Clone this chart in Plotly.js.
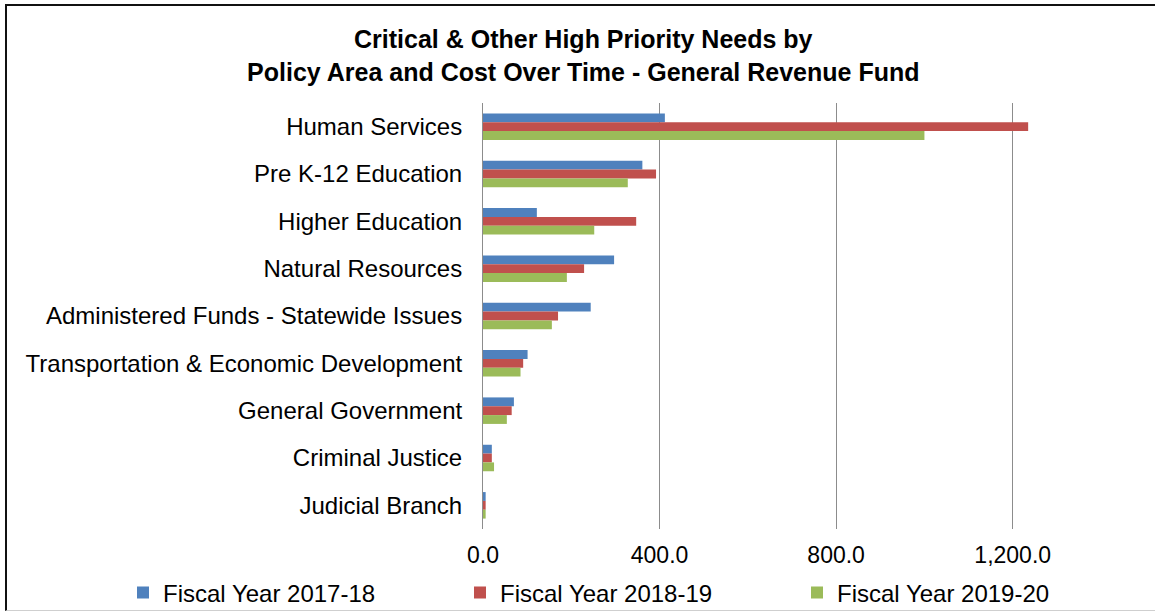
<!DOCTYPE html>
<html>
<head>
<meta charset="utf-8">
<script src="https://cdn.plot.ly/plotly-3.0.1.min.js"></script>
<style>
  html, body { margin: 0; padding: 0; background: #fff; overflow: hidden; }
  #wrap { position: relative; width: 1155px; height: 612px; overflow: hidden; }
  #chart { width: 1155px; height: 612px; }
  #frame { position: absolute; left: 5px; top: 4px; width: 1300px; height: 604px;
           border-left: 2px solid #111; border-top: 2px solid #111; border-bottom: 1px solid #cfcfcf;
           pointer-events: none; }
</style>
</head>
<body>
<div id="wrap">
  <div id="chart"></div>
  <div id="frame"></div>
</div>
<script>
const categories = [
  "Human Services",
  "Pre K-12 Education",
  "Higher Education",
  "Natural Resources",
  "Administered Funds - Statewide Issues",
  "Transportation & Economic Development",
  "General Government",
  "Criminal Justice",
  "Judicial Branch"
];
const seriesNames = ["Fiscal Year 2017-18", "Fiscal Year 2018-19", "Fiscal Year 2019-20"];
const fy2017_18 = [412, 361, 122, 297, 244, 101, 70, 20, 6];
const fy2018_19 = [1235, 392, 347, 229, 170, 91, 65, 20, 6];
const fy2019_20 = [1000, 328, 252, 190, 156, 85, 54, 25, 6];
const seriesColors = ["#4F81BD", "#C0504D", "#9BBB59"];
const xTicks = [0, 400, 800, 1200];

const seriesValues = [fy2017_18, fy2018_19, fy2019_20];
const traces = seriesValues.map((vals, i) => ({
  type: "bar",
  orientation: "h",
  name: seriesNames[i],
  y: categories,
  x: vals,
  marker: { color: seriesColors[i], line: { width: 0 } },
  hovertemplate: "%{y}: %{x:,.1f}<extra>" + seriesNames[i] + "</extra>"
}));

const font = "Liberation Sans, Arial, Helvetica, sans-serif";
const W = 1155, H = 612;
const M = { l: 483, r: 54, t: 103, b: 83 };
const plotW = W - M.l - M.r, plotH = H - M.t - M.b;

const layout = {
  width: W,
  height: H,
  paper_bgcolor: "#ffffff",
  plot_bgcolor: "#ffffff",
  margin: { l: M.l, r: M.r, t: M.t, b: M.b, pad: 0, autoexpand: false },
  font: { family: font, color: "#000000", size: 23 },
  title: {
    text: "Critical & Other High Priority Needs by<br>Policy Area and Cost Over Time - General Revenue Fund",
    font: { family: font, size: 25, color: "#000000", weight: "bold" },
    x: 0.505, xanchor: "center", xref: "container",
    y: 1 - 48 / H, yanchor: "middle", yref: "container"
  },
  barmode: "group",
  bargap: 0.44,
  bargroupgap: 0,
  xaxis: {
    range: [0, 1400],
    tickvals: xTicks,
    tickformat: ",.1f",
    showgrid: true,
    gridcolor: "#8c8c8c",
    gridwidth: 1,
    zeroline: false,
    showline: false,
    ticks: "",
    ticklabelstandoff: 10,
    tickfont: { family: font, size: 23, color: "#000" },
    fixedrange: true
  },
  yaxis: {
    type: "category",
    autorange: "reversed",
    showgrid: false,
    zeroline: false,
    showline: true,
    linecolor: "#8c8c8c",
    linewidth: 1,
    ticks: "",
    ticklabelstandoff: 15,
    tickfont: { family: font, size: 24, color: "#000" },
    fixedrange: true
  },
  showlegend: true,
  legend: {
    orientation: "h",
    x: (123 - M.l) / plotW,
    xanchor: "left",
    y: (H - M.b - 593) / plotH,
    yanchor: "middle",
    traceorder: "normal",
    entrywidth: 292,
    entrywidthmode: "pixels",
    font: { family: font, size: 24, color: "#000" },
    bgcolor: "rgba(0,0,0,0)"
  }
};

Plotly.newPlot("chart", traces, layout, { displayModeBar: false });
</script>
</body>
</html>
